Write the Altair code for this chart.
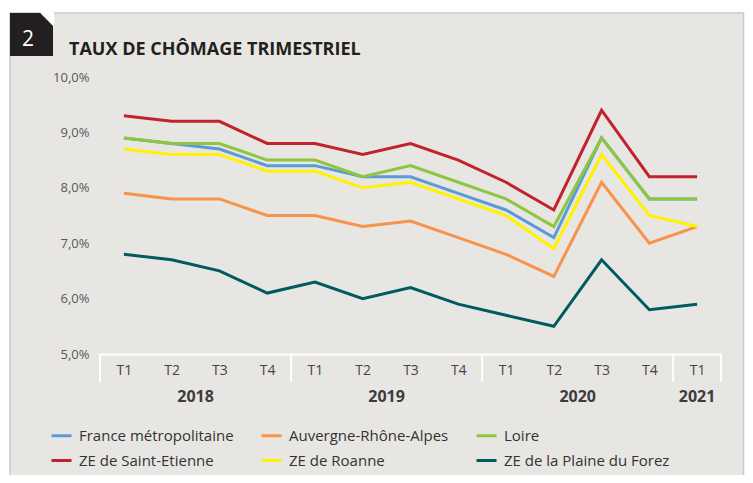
import altair as alt
import pandas as pd

# ---------------- data ----------------
YEARS = ["2018", "2018", "2018", "2018",
         "2019", "2019", "2019", "2019",
         "2020", "2020", "2020", "2020",
         "2021"]
QUARTERS = ["T1", "T2", "T3", "T4",
            "T1", "T2", "T3", "T4",
            "T1", "T2", "T3", "T4",
            "T1"]

SERIES = ["France métropolitaine", "Auvergne-Rhône-Alpes", "Loire",
          "ZE de Saint-Etienne", "ZE de Roanne", "ZE de la Plaine du Forez"]
COLORS = ["#5B9BD5", "#F7934A", "#8DC63F", "#C1232D", "#FFF200", "#005A5E"]

france = [8.9, 8.8, 8.7, 8.4, 8.4, 8.2, 8.2, 7.9, 7.6, 7.1, 8.9, 7.8, 7.8]
ara = [7.9, 7.8, 7.8, 7.5, 7.5, 7.3, 7.4, 7.1, 6.8, 6.4, 8.1, 7.0, 7.3]
loire = [8.9, 8.8, 8.8, 8.5, 8.5, 8.2, 8.4, 8.1, 7.8, 7.3, 8.9, 7.8, 7.8]
st_etienne = [9.3, 9.2, 9.2, 8.8, 8.8, 8.6, 8.8, 8.5, 8.1, 7.6, 9.4, 8.2, 8.2]
roanne = [8.7, 8.6, 8.6, 8.3, 8.3, 8.0, 8.1, 7.8, 7.5, 6.9, 8.6, 7.5, 7.3]
forez = [6.8, 6.7, 6.5, 6.1, 6.3, 6.0, 6.2, 5.9, 5.7, 5.5, 6.7, 5.8, 5.9]

VALUES = {
    "France métropolitaine": france,
    "Auvergne-Rhône-Alpes": ara,
    "Loire": loire,
    "ZE de Saint-Etienne": st_etienne,
    "ZE de Roanne": roanne,
    "ZE de la Plaine du Forez": forez,
}
DRAW_ORDER = ["France métropolitaine", "Loire", "Auvergne-Rhône-Alpes",
              "ZE de Roanne", "ZE de la Plaine du Forez", "ZE de Saint-Etienne"]

TITLE = "TAUX DE CHÔMAGE TRIMESTRIEL"
FONT = "Open Sans"

rows = []
for s in SERIES:
    for i, v in enumerate(VALUES[s]):
        rows.append({"series": s, "idx": i, "q": QUARTERS[i], "year": YEARS[i], "value": v})
df = pd.DataFrame(rows)

# year group centres and boundaries derived from the category lists
year_names = list(dict.fromkeys(YEARS))
year_df = pd.DataFrame({
    "year": year_names,
    "c": [sum(i for i, y in enumerate(YEARS) if y == yn) / YEARS.count(yn) for yn in year_names],
})
starts = [i - 0.5 for i, y in enumerate(YEARS) if i == 0 or YEARS[i - 1] != y]
bounds_df = pd.DataFrame({"b": starts + [len(YEARS) - 0.5]})

# ---------------- encodings ----------------
x_scale = alt.Scale(domain=[-0.5, len(QUARTERS) - 0.5], nice=False, zero=False)
label_expr = "[" + ",".join(f"'{q}'" for q in QUARTERS) + "][datum.value]"
x_axis = alt.Axis(values=list(range(len(QUARTERS))), labelExpr=label_expr, title=None,
                  grid=False, ticks=False, domainColor="white", domainWidth=2,
                  labelPadding=9, labelFontSize=14, labelColor="#444444",
                  labelFont=FONT, labelAngle=0, labelFlush=False, zindex=1)


def xenc(field):
    return alt.X(f"{field}:Q", scale=x_scale, axis=x_axis)


y_enc = alt.Y("value:Q", scale=alt.Scale(domain=[5, 10], nice=False, zero=False),
              axis=alt.Axis(values=[5, 6, 7, 8, 9, 10], title=None, grid=False,
                            ticks=False, tickSize=0, domain=False, labelPadding=11,
                            labelFontSize=13, labelColor="#58595B", labelFont=FONT,
                            zindex=1,
                            labelExpr="replace(format(datum.value, '.1f'), '.', ',') + '%'"))

color_enc = alt.Color("series:N", scale=alt.Scale(domain=SERIES, range=COLORS),
                      legend=alt.Legend(title=None, orient="none", legendX=-50, legendY=347,
                                        direction="horizontal",
                                        columns=3, columnPadding=21, rowPadding=5,
                                        symbolType="stroke", symbolStrokeWidth=3,
                                        symbolSize=400, labelFontSize=15, labelFont=FONT,
                                        labelColor="#333333", labelLimit=400,
                                        labelOffset=6, padding=0, zindex=1))

one = pd.DataFrame({"k": [0]})

# ---------------- decorative frame ----------------
panel = alt.Chart(one).mark_rect(fill="#E7E6E3", stroke="#C9C9C9", strokeWidth=1.5).encode(
    x=alt.value(-90), x2=alt.value(643.5), y=alt.value(-64), y2=alt.value(430))

tab = alt.Chart(one).mark_point(shape="M-1,-1L0.4,-1L1,-0.4L1,1L-1,1Z", filled=True,
                                 fill="#231F20", opacity=1, size=1849).encode(
    x=alt.value(-68.5), y=alt.value(-42.5))
tab_cut = alt.Chart(one).mark_point(shape="M0.4,-1.05L1.05,-1.05L1.05,-0.4Z", filled=True,
                                     fill="white", opacity=1, size=1849).encode(
    x=alt.value(-68.5), y=alt.value(-42.5))
tab_num = alt.Chart(one).mark_text(text="2", color="white", fontSize=21, font=FONT,
                                    align="center", baseline="middle").encode(
    x=alt.value(-72), y=alt.value(-37))
title = alt.Chart(one).mark_text(text=TITLE, color="#231F20", fontSize=18, fontWeight="bold",
                                  font=FONT, align="left", baseline="middle").encode(
    x=alt.value(-31), y=alt.value(-27))

separators = alt.Chart(bounds_df).mark_rule(color="white", strokeWidth=2).encode(
    x=xenc("b"), y=alt.value(277), y2=alt.value(305))

year_text = alt.Chart(year_df).mark_text(fontSize=16, fontWeight="bold", font=FONT,
                                          color="#3C3C3C", baseline="middle").encode(
    x=xenc("c"), y=alt.value(320), text="year:N")

lines = []
for s in DRAW_ORDER:
    lines.append(
        alt.Chart(df).transform_filter(alt.datum.series == s)
        .mark_line(strokeWidth=3, strokeJoin="miter", strokeCap="butt")
        .encode(x=xenc("idx"), y=y_enc, color=color_enc)
    )

chart = alt.layer(panel, tab, tab_cut, tab_num, title, separators, year_text, *lines).properties(
    width=621, height=277,
    autosize=alt.AutoSizeParams(type="none"),
    padding={"left": 92, "top": 69, "right": 24, "bottom": 121},
    background="white",
).configure_view(strokeWidth=0)

chart.save("out.html", embed_options={"renderer": "svg", "actions": False})
